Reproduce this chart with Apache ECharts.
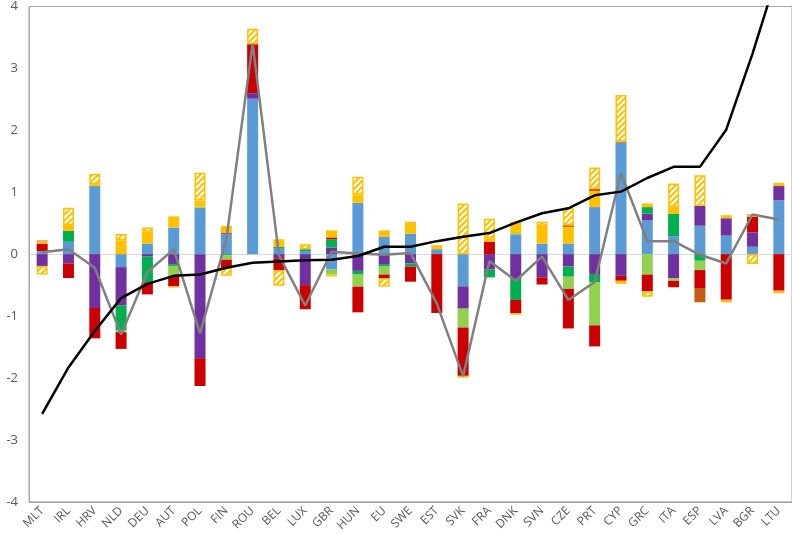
<!DOCTYPE html>
<html>
<head>
<meta charset="utf-8">
<script src="https://cdn.jsdelivr.net/npm/echarts@6/dist/echarts.min.js"></script>
<style>
html,body{margin:0;padding:0;background:#fff;}
#chart{width:792px;height:534px;}
</style>
</head>
<body>
<div id="chart"></div>
<script>
var categories = ['MLT','IRL','HRV','NLD','DEU','AUT','POL','FIN','ROU','BEL','LUX','GBR','HUN','EU','SWE','EST','SVK','FRA','DNK','SVN','CZE','PRT','CYP','GRC','ITA','ESP','LVA','BGR','LTU'];
var yTicks = [-4,-3,-2,-1,0,1,2,3,4];

var blueVals      = [0.05,0.2,1.1,-0.21,0.17,0.43,0.75,0.32,2.51,0.1,0.05,-0.25,0.83,0.28,0.33,0.08,-0.52,null,0.32,0.17,0.17,0.76,1.8,0.55,0.29,0.46,0.3,0.12,0.87];
var purpleVals    = [-0.19,-0.15,-0.87,-0.62,-0.04,-0.16,-1.68,0.02,0.09,-0.065,-0.5,0.107,-0.27,-0.16,-0.15,null,-0.36,-0.25,-0.4,-0.375,-0.2,-0.32,-0.35,0.105,-0.39,0.32,0.28,0.23,0.23];
var greenVals     = [null,0.175,null,-0.4,-0.415,-0.03,null,-0.02,null,0.02,0.03,0.133,-0.06,-0.04,-0.05,null,null,-0.125,-0.34,null,-0.165,-0.135,null,0.105,0.36,-0.107,null,null,null];
var lightGreenVals= [null,null,null,-0.03,null,-0.16,0.015,-0.07,null,null,null,-0.08,-0.195,-0.13,null,null,-0.305,null,0.02,null,-0.195,-0.695,null,-0.33,-0.04,-0.15,null,null,null];
var redVals       = [0.12,-0.235,-0.49,-0.27,-0.195,-0.17,-0.45,-0.13,0.79,-0.195,-0.39,0.03,-0.415,-0.055,-0.245,-0.95,-0.78,0.2,-0.215,-0.115,-0.64,-0.34,-0.08,-0.27,-0.105,-0.29,-0.73,0.25,-0.59];
var yellowVals    = [0.04,0.095,0.03,0.22,0.19,0.18,0.1,0.115,null,0.12,null,0.115,0.135,0.105,0.14,0.065,null,0.057,0.185,0.285,0.27,0.26,null,0.06,0.116,null,0.05,0.03,0.05];
var darkOrangeVals= [0.01,null,null,null,null,null,null,null,null,null,null,null,null,null,null,null,null,null,null,null,0.026,0.035,0.015,null,null,-0.23,-0.02,0.01,null];
var yellowNegVals = [null,null,null,null,null,-0.02,null,null,null,null,null,-0.03,null,null,null,null,-0.03,null,-0.025,null,null,null,-0.05,null,null,null,-0.03,null,-0.04];
var hatchedVals   = [-0.14,0.28,0.17,0.105,0.07,null,0.45,-0.13,0.25,-0.25,0.08,null,0.285,-0.14,0.055,null,0.82,0.313,null,0.07,0.284,0.345,0.755,-0.09,0.374,0.495,null,-0.16,null];

var netVals   = [0.03,0.08,-0.22,-1.3,-0.29,0.08,-1.28,0.24,3.4,-0.02,-0.83,0.04,0.01,-0.01,0.02,-0.8,-1.97,-0.11,-0.43,-0.04,-0.74,-0.45,1.31,0.21,0.21,-0.01,-0.15,0.64,0.56];
var curveVals = [-2.58,-1.83,-1.24,-0.71,-0.48,-0.35,-0.33,-0.22,-0.14,-0.12,-0.1,-0.09,-0.03,0.12,0.12,0.21,0.28,0.34,0.51,0.66,0.74,0.95,1.01,1.23,1.41,1.41,2.01,3.24,4.6];

// hatch pattern tile ("/" white stripes on yellow)
var tile = document.createElement('canvas');
tile.width = 6; tile.height = 6;
var tc = tile.getContext('2d');
tc.fillStyle = '#FFC000';
tc.fillRect(0, 0, 6, 6);
tc.strokeStyle = '#ffffff';
tc.lineWidth = 2.2;
tc.beginPath();
tc.moveTo(-1, 7); tc.lineTo(7, -1);
tc.moveTo(-4, 4); tc.lineTo(4, -4);
tc.moveTo(2, 10); tc.lineTo(10, 2);
tc.stroke();

var chart = echarts.init(document.getElementById('chart'), null, {renderer:'canvas'});

function barSeries(name, data, color, extra) {
  var s = {
    name: name, type: 'bar', stack: 'total', data: data, barWidth: 11,
    itemStyle: { color: color },
    emphasis: { disabled: true }
  };
  if (extra) { for (var k in extra) s[k] = extra[k]; }
  return s;
}

var splitColors = yTicks.map(function (t) { return t === 0 ? '#d9d9d9' : 'rgba(0,0,0,0)'; });

var option = {
  animation: false,
  backgroundColor: '#ffffff',
  grid: { left: 29, top: 4, right: -4, bottom: 31, show: true, borderColor: '#a6a6a6', borderWidth: 1, backgroundColor: 'transparent' },
  xAxis: {
    type: 'category', data: categories,
    axisLine: { show: true, onZero: false, lineStyle: { color: '#a6a6a6', width: 1 } },
    axisTick: { show: false },
    axisLabel: { interval: 0, rotate: 45, color: '#595959', fontSize: 12, fontFamily: 'Open Sans', margin: 7 }
  },
  yAxis: {
    type: 'value', min: -4, max: 4, interval: 1,
    axisLine: { show: true, lineStyle: { color: '#a6a6a6', width: 1 } },
    axisTick: { show: false },
    axisLabel: { color: '#595959', fontSize: 13, fontFamily: 'Open Sans', margin: 11 },
    splitLine: { show: true, lineStyle: { color: splitColors, width: 1 } }
  },
  series: [
    barSeries('blue', blueVals, '#5B9BD5'),
    barSeries('purple', purpleVals, '#7030A0'),
    barSeries('green', greenVals, '#00B050'),
    barSeries('lightgreen', lightGreenVals, '#92D050'),
    barSeries('red', redVals, '#CC0000'),
    barSeries('yellow', yellowVals, '#FFC000'),
    barSeries('darkorange', darkOrangeVals, '#C55A11'),
    barSeries('yellowneg', yellowNegVals, '#FFC000'),
    barSeries('hatched', hatchedVals, '#FFC000', {
      itemStyle: {
        color: { image: tile, repeat: 'repeat' },
        borderColor: '#FFC000', borderWidth: 1.5
      }
    }),
    { name: 'net', type: 'line', data: netVals, symbol: 'none', lineStyle: { color: '#808080', width: 2.5 }, z: 4 },
    { name: 'curve', type: 'line', data: curveVals, symbol: 'none', lineStyle: { color: '#000000', width: 2.5 }, z: 5, clip: true }
  ]
};
chart.setOption(option);
</script>
</body>
</html>
